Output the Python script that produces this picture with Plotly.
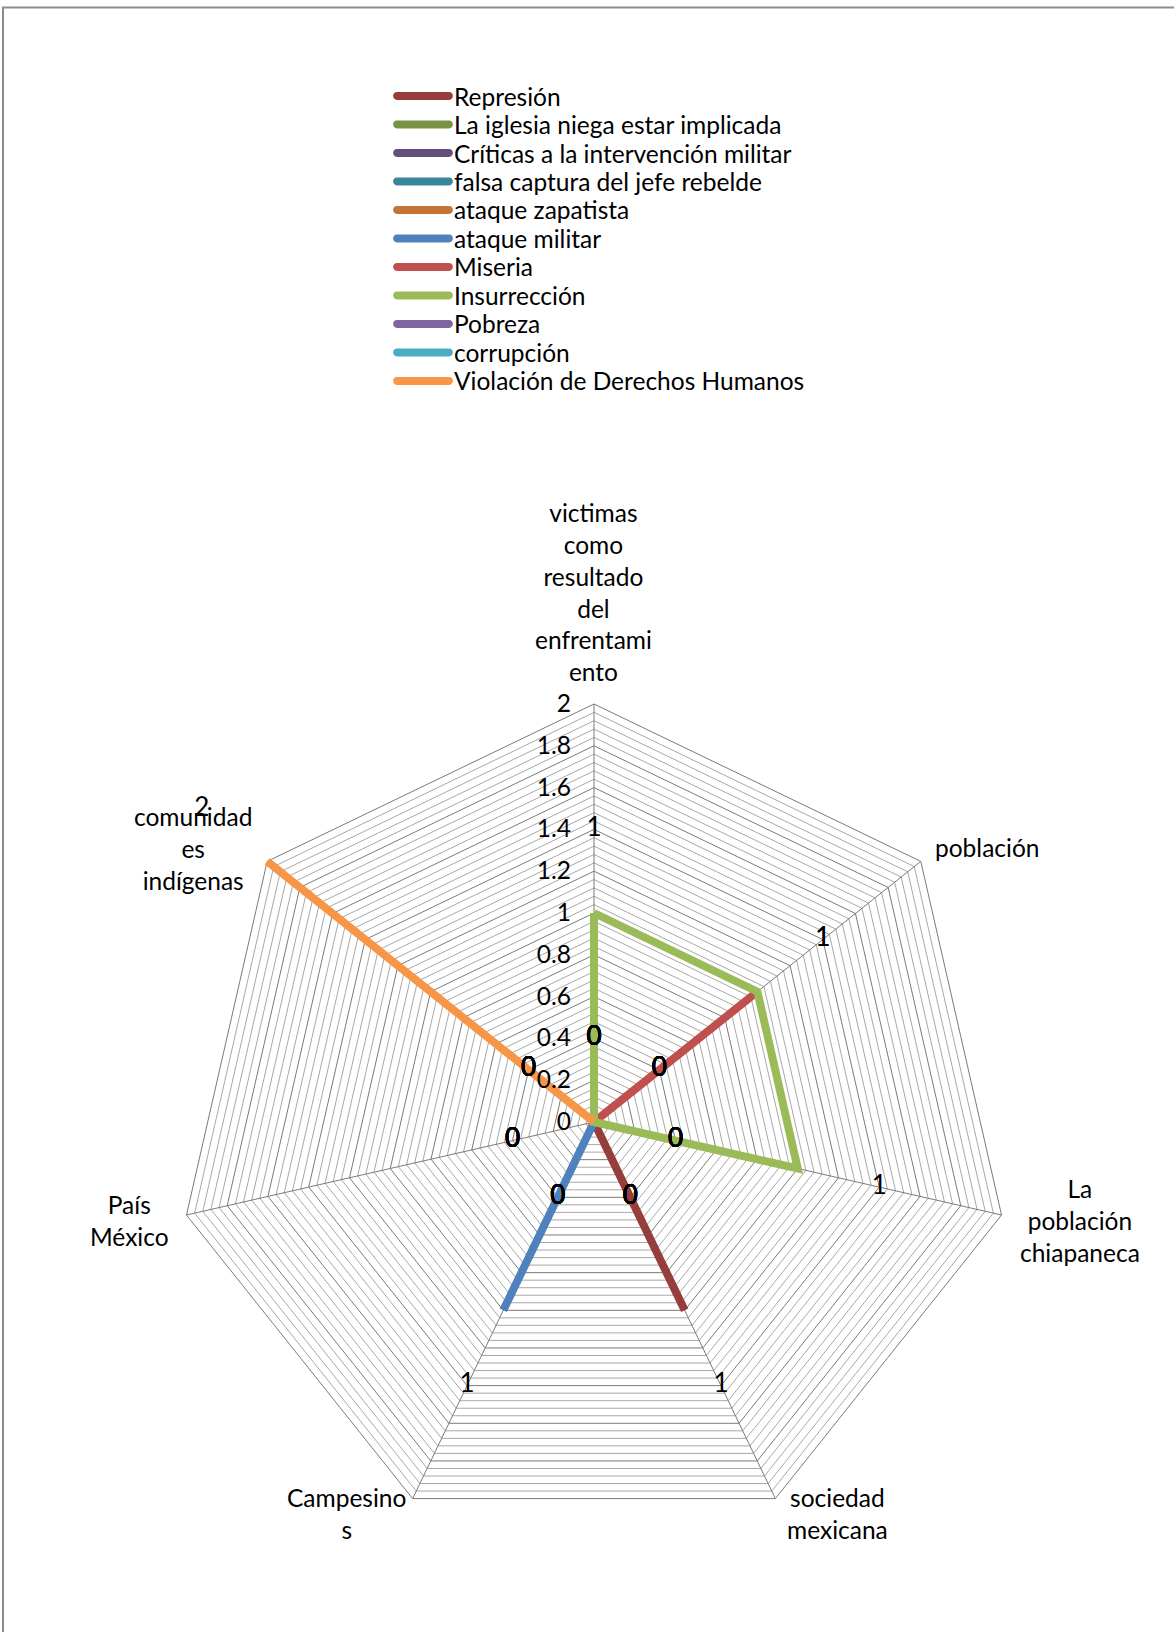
import math
import plotly.graph_objects as go

# Axis categories of the radar and their wrapped labels
categories = [
    "victimas como resultado del enfrentamiento",
    "población",
    "La población chiapaneca",
    "sociedad mexicana",
    "Campesinos",
    "País México",
    "comunidades indígenas",
]
category_labels = [
    "victimas<br>como<br>resultado<br>del<br>enfrentami<br>ento",
    "población",
    "La<br>población<br>chiapaneca",
    "sociedad<br>mexicana",
    "Campesino<br>s",
    "País<br>México",
    "comunidad<br>es<br>indígenas",
]

# Series values, one per category
represion = [0, 0, 0, 1, 0, 0, 0]
iglesia = [0, 0, 0, 0, 0, 0, 0]
criticas = [0, 0, 0, 0, 0, 0, 0]
falsa_captura = [0, 0, 0, 0, 0, 0, 0]
ataque_zapatista = [0, 0, 0, 0, 0, 0, 0]
ataque_militar = [0, 0, 0, 0, 1, 0, 0]
miseria = [0, 1, 0, 0, 0, 0, 0]
insurreccion = [1, 1, 1, 0, 0, 0, 0]
pobreza = [0, 0, 0, 0, 0, 0, 0]
corrupcion = [0, 0, 0, 0, 0, 0, 0]
violacion_ddhh = [0, 0, 0, 0, 0, 0, 2]

series_names = [
    "Represión",
    "La iglesia niega estar implicada",
    "Críticas a la intervención militar",
    "falsa captura del jefe rebelde",
    "ataque zapatista",
    "ataque militar",
    "Miseria",
    "Insurrección",
    "Pobreza",
    "corrupción",
    "Violación de Derechos Humanos",
]
series_values = [
    represion, iglesia, criticas, falsa_captura, ataque_zapatista,
    ataque_militar, miseria, insurreccion, pobreza, corrupcion, violacion_ddhh,
]
series_colors = [
    "#963E3C", "#799245", "#644E7E", "#3A869B", "#C17537",
    "#4F81BD", "#C0504D", "#9BBB59", "#8064A2", "#4BACC6", "#F79646",
]

R_MAX = 2.0        # value scale shown by the grid
R_VIEW = 2.42      # radial range kept a bit wider so outer data labels stay visible
MAJOR = 0.2
MINOR = 0.04
LABEL_OFFSET = 0.4
FONT = "Lato, Carlito, Calibri, sans-serif"
FS = 24.5
FS_DATA = 26
LINE_W = 8
GRID_MAJOR = "#7A7A7A"
GRID_MINOR = "#A8A8A8"

W, H = 1174, 1632
cx, cy, rad = 594, 1122, 418            # centre and pixel radius of value R_MAX
rad_view = rad * R_VIEW / R_MAX         # pixel radius of the whole radial range

step = int(round(MAJOR / MINOR))
n_minor = int(round(R_MAX / MINOR))
major_vals = [round(i * MAJOR, 10) for i in range(int(round(R_MAX / MAJOR)) + 1)]

fig = go.Figure()

# minor concentric gridlines (polygons between the major ones)
closed_theta = categories + [categories[0]]
gr, gt = [], []
for k in range(1, n_minor):
    if k % step == 0:
        continue
    rv = k * MINOR
    gr += [rv] * len(closed_theta) + [None]
    gt += closed_theta + [None]
fig.add_trace(go.Scatterpolar(
    r=gr, theta=gt, mode="lines", connectgaps=False,
    line=dict(color=GRID_MINOR, width=1),
    hoverinfo="skip", showlegend=False,
))

# spokes from the centre to the outer polygon
sr, st = [], []
for c in categories:
    sr += [0, R_MAX, None]
    st += [c, c, None]
fig.add_trace(go.Scatterpolar(
    r=sr, theta=st, mode="lines", connectgaps=False,
    line=dict(color=GRID_MAJOR, width=1),
    hoverinfo="skip", showlegend=False,
))

# series lines
for name, vals, col in zip(series_names, series_values, series_colors):
    fig.add_trace(go.Scatterpolar(
        r=vals + [vals[0]], theta=closed_theta, mode="lines", name=name,
        line=dict(color=col, width=LINE_W), showlegend=False,
    ))

# data labels, set a little outward from each point
for name, vals in zip(series_names, series_values):
    fig.add_trace(go.Scatterpolar(
        r=[v + LABEL_OFFSET for v in vals], theta=categories, mode="text",
        text=[str(v) for v in vals],
        textfont=dict(family=FONT, size=FS_DATA, color="#000000"),
        textposition="middle center", showlegend=False, hoverinfo="skip",
        cliponaxis=False,
    ))

# legend: rounded line keys + names
annotations, shapes = [], []
leg_key_x, leg_text_x, leg_top, leg_step = 423, 452, 96, 28.5
half, cap = 26, 3.9
k = 4 / 3 * cap
key_path = (f"M {-half},{-cap} L {half},{-cap} "
            f"C {half + k},{-cap} {half + k},{cap} {half},{cap} "
            f"L {-half},{cap} C {-half - k},{cap} {-half - k},{-cap} {-half},{-cap} Z")
for i, (name, col) in enumerate(zip(series_names, series_colors)):
    yp = 1 - (leg_top + i * leg_step) / H
    shapes.append(dict(
        type="path", xref="paper", yref="paper",
        xsizemode="pixel", ysizemode="pixel",
        xanchor=leg_key_x / W, yanchor=yp, path=key_path,
        fillcolor=col, line=dict(width=0),
    ))
    annotations.append(dict(
        text=name, xref="paper", yref="paper", x=leg_text_x / W, y=yp,
        xanchor="left", yanchor="middle", showarrow=False,
        font=dict(family=FONT, size=FS, color="#000000"),
    ))

# category labels placed at the outer vertex of each spoke
n = len(categories)
label_place = [
    ("center", "bottom", 0, 16),
    ("left", "middle", 12, 14),
    ("left", "middle", 16, -5),
    ("left", "top", 10, 18),
    ("right", "top", -5, 18),
    ("right", "middle", -15, -5),
    ("right", "middle", -13, 13),
]
for i, (lab, (xa, ya, dx, dy)) in enumerate(zip(category_labels, label_place)):
    ang = math.radians(90 - i * 360 / n)
    vx = cx + rad * math.cos(ang)
    vy = cy - rad * math.sin(ang)
    annotations.append(dict(
        text=lab, xref="paper", yref="paper", x=vx / W, y=1 - vy / H,
        xanchor=xa, yanchor=ya, xshift=dx, yshift=dy, align="center",
        showarrow=False, font=dict(family=FONT, size=FS, color="#000000"),
    ))

# chart-area border
shapes.append(dict(
    type="rect", xref="paper", yref="paper",
    x0=3 / W, x1=1.02, y0=-0.02, y1=1 - 7.5 / H,
    line=dict(color="#8C8C8C", width=2), layer="below",
))

fig.update_layout(
    width=W, height=H, autosize=False,
    margin=dict(l=0, r=0, t=0, b=0),
    paper_bgcolor="white",
    font=dict(family=FONT, size=FS, color="#000000"),
    showlegend=False,
    polar=dict(
        domain=dict(x=[(cx - rad_view) / W, (cx + rad_view) / W],
                    y=[(H - cy - rad_view) / H, (H - cy + rad_view) / H]),
        gridshape="linear",
        bgcolor="rgba(0,0,0,0)",
        angularaxis=dict(
            type="category", rotation=90, direction="clockwise",
            categoryarray=categories,
            showticklabels=False, ticks="",
            showgrid=False, showline=False,
        ),
        radialaxis=dict(
            range=[0, R_VIEW], tickmode="array", tickvals=major_vals,
            ticktext=[f"{v:g}" for v in major_vals],
            angle=90, tickangle=90, side="counterclockwise",
            showgrid=True, gridcolor=GRID_MAJOR, gridwidth=1,
            showline=False,
            ticks="outside", ticklen=14, tickcolor="rgba(0,0,0,0)",
            tickfont=dict(family=FONT, size=FS, color="#000000"),
            layer="above traces",
        ),
    ),
    annotations=annotations,
    shapes=shapes,
)

fig.write_html("out.html")
